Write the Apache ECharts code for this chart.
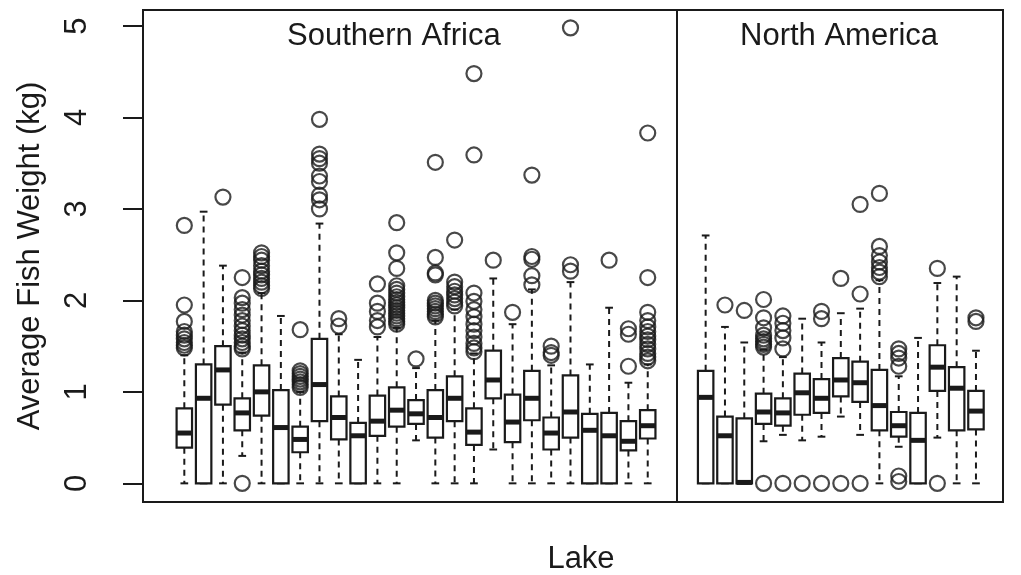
<!DOCTYPE html>
<html>
<head>
<meta charset="utf-8">
<script src="https://cdn.jsdelivr.net/npm/echarts@6/dist/echarts.min.js"></script>
<style>
html, body { margin: 0; padding: 0; background: #fff; }
#main { width: 1021px; height: 575px; }
</style>
</head>
<body>
<div id="main"></div>
<script>
// each lake: lower whisker, lower hinge, median, upper hinge, upper whisker (kg)
const saLow  = [0, 0, 0, 0.30, 0, 0, 0, 0, 0, 0, 0, 0, 0.47, 0, 0, 0, 0.37, 0, 0, 0, 0, 0, 0, 0, 0];
const saQ1   = [0.39, 0, 0.86, 0.58, 0.74, 0, 0.34, 0.68, 0.48, 0, 0.52, 0.62, 0.65, 0.50, 0.68, 0.42, 0.93, 0.45, 0.69, 0.37, 0.50, 0, 0, 0.36, 0.49];
const saMed  = [0.55, 0.93, 1.24, 0.77, 1.00, 0.61, 0.48, 1.08, 0.72, 0.52, 0.68, 0.80, 0.76, 0.72, 0.93, 0.56, 1.13, 0.67, 0.93, 0.55, 0.78, 0.58, 0.52, 0.46, 0.63];
const saQ3   = [0.82, 1.30, 1.50, 0.93, 1.29, 1.02, 0.62, 1.58, 0.95, 0.66, 0.96, 1.05, 0.91, 1.02, 1.17, 0.82, 1.45, 0.97, 1.23, 0.72, 1.18, 0.76, 0.77, 0.68, 0.80];
const saHigh = [1.40, 2.97, 2.38, 1.43, 2.08, 1.83, 1.00, 2.84, 1.63, 1.35, 1.60, 1.70, 1.26, 1.78, 1.90, 1.42, 2.24, 1.74, 2.12, 1.29, 2.20, 1.30, 1.92, 1.10, 1.30];
const saOutliers = [
  [1.48, 1.51, 1.54, 1.58, 1.62, 1.66, 1.77, 1.95, 2.82],
  [],
  [3.13],
  [0, 1.47, 1.5, 1.54, 1.58, 1.62, 1.67, 1.72, 1.78, 1.84, 1.9, 1.97, 2.03, 2.25],
  [2.13, 2.16, 2.2, 2.24, 2.28, 2.32, 2.38, 2.44, 2.48, 2.52],
  [],
  [1.05, 1.08, 1.11, 1.14, 1.17, 1.2, 1.23, 1.68],
  [3.0, 3.1, 3.15, 3.3, 3.36, 3.5, 3.55, 3.6, 3.98],
  [1.72, 1.8],
  [],
  [1.71, 1.78, 1.88, 1.97, 2.18],
  [1.74, 1.77, 1.8, 1.83, 1.86, 1.89, 1.92, 1.95, 1.98, 2.01, 2.04, 2.08, 2.12, 2.16, 2.35, 2.52, 2.85],
  [1.36],
  [1.82, 1.85, 1.88, 1.91, 1.94, 1.97, 2.0, 2.28, 2.3, 2.47, 3.51],
  [1.94, 1.98, 2.02, 2.06, 2.1, 2.15, 2.2, 2.66],
  [1.44, 1.48, 1.53, 1.6, 1.67, 1.74, 1.82, 1.9, 1.99, 2.08, 3.59, 4.48],
  [2.44],
  [1.87],
  [2.17, 2.27, 2.45, 2.48, 3.37],
  [1.4, 1.43, 1.5],
  [2.32, 2.39, 4.98],
  [],
  [2.44],
  [1.28, 1.63, 1.69],
  [1.34, 1.38, 1.42, 1.47, 1.52, 1.57, 1.61, 1.66, 1.71, 1.78, 1.87, 2.25, 3.83]
];

const naLow  = [0, 0, 0, 0.46, 0.53, 0.47, 0.51, 0.73, 0.53, 0, 0.40, 0, 0.50, 0, 0];
const naQ1   = [0, 0, 0, 0.65, 0.63, 0.75, 0.77, 0.95, 0.89, 0.58, 0.51, 0, 1.01, 0.58, 0.59];
const naMed  = [0.94, 0.52, 0.01, 0.78, 0.77, 0.99, 0.93, 1.13, 1.10, 0.85, 0.63, 0.47, 1.27, 1.04, 0.79];
const naQ3   = [1.23, 0.73, 0.71, 0.98, 0.93, 1.20, 1.14, 1.37, 1.33, 1.24, 0.78, 0.77, 1.51, 1.27, 1.01];
const naHigh = [2.71, 1.71, 1.54, 1.46, 1.38, 1.80, 1.54, 1.86, 1.91, 2.22, 1.17, 1.59, 2.19, 2.26, 1.45];
const naOutliers = [
  [],
  [1.95],
  [1.89],
  [0, 1.49, 1.52, 1.55, 1.58, 1.62, 1.7, 1.81, 2.01],
  [0, 1.47, 1.59, 1.67, 1.75, 1.83],
  [0],
  [0, 1.8, 1.88],
  [0, 2.24],
  [0, 2.07, 3.05],
  [2.26, 2.31, 2.36, 2.42, 2.49, 2.59, 3.17],
  [0.02, 0.08, 1.28, 1.37, 1.42, 1.47],
  [],
  [0, 2.35],
  [],
  [1.77, 1.81]
];

const yTicks = [0, 1, 2, 3, 4, 5];

const ink = '#1a1a1a';
const font = 'Liberation Sans, Arial, Helvetica, sans-serif';

// lakes sit at 1,2,3,... ; North America starts after a gap of two slots
const naStart = saMed.length + 3;
const divider = saMed.length + 1.5;

let boxData = [];
let outlierData = [];
function addRegion(low, q1, med, q3, high, outs, start) {
    for (let i = 0; i < med.length; i++) {
        let x = start + i;
        boxData.push([x, low[i], q1[i], med[i], q3[i], high[i]]);
        for (let j = 0; j < outs[i].length; j++) {
            outlierData.push([x, outs[i][j]]);
        }
    }
}
addRegion(saLow, saQ1, saMed, saQ3, saHigh, saOutliers, 1);
addRegion(naLow, naQ1, naMed, naQ3, naHigh, naOutliers, naStart);

function renderBox(params, api) {
    let x = api.value(0);
    let low = api.coord([x, api.value(1)]);
    let q1 = api.coord([x, api.value(2)]);
    let med = api.coord([x, api.value(3)]);
    let q3 = api.coord([x, api.value(4)]);
    let high = api.coord([x, api.value(5)]);
    let w = api.size([0.8, 0])[0];
    let cx = med[0];
    let half = w / 2;
    let cap = w / 4;
    let solid = { stroke: ink, lineWidth: 2, fill: null };
    let dashed = { stroke: ink, lineWidth: 2, lineDash: [6, 5], fill: null };
    return {
        type: 'group',
        children: [
            { type: 'line', shape: { x1: cx, y1: q1[1], x2: cx, y2: low[1] }, style: dashed },
            { type: 'line', shape: { x1: cx, y1: q3[1], x2: cx, y2: high[1] }, style: dashed },
            { type: 'line', shape: { x1: cx - cap, y1: low[1], x2: cx + cap, y2: low[1] }, style: solid },
            { type: 'line', shape: { x1: cx - cap, y1: high[1], x2: cx + cap, y2: high[1] }, style: solid },
            { type: 'rect', shape: { x: cx - half, y: q3[1], width: w, height: q1[1] - q3[1] },
              style: { fill: '#fff', stroke: ink, lineWidth: 2.2 } },
            { type: 'line', shape: { x1: cx - half, y1: med[1], x2: cx + half, y2: med[1] },
              style: { stroke: ink, lineWidth: 5 } }
        ]
    };
}

var myChart = echarts.init(document.getElementById('main'));
let option = {
    animation: false,
    backgroundColor: '#fff',
    textStyle: { fontFamily: font, color: ink },
    title: [
        {
            text: 'Southern Africa',
            left: 287,
            top: 21,
            padding: 0,
            textStyle: { fontSize: 31, fontWeight: 'normal', color: ink, fontFamily: font }
        },
        {
            text: 'North America',
            left: 740,
            top: 21,
            padding: 0,
            textStyle: { fontSize: 31, fontWeight: 'normal', color: ink, fontFamily: font }
        }
    ],
    grid: {
        left: 143,
        right: 18,
        top: 10,
        bottom: 73,
        containLabel: false,
        outerBoundsMode: 'none',
        show: true,
        borderColor: ink,
        borderWidth: 2,
        backgroundColor: 'transparent'
    },
    xAxis: {
        type: 'value',
        min: -1.14,
        max: 43.4,
        name: 'Lake',
        nameLocation: 'middle',
        nameGap: 42,
        nameTextStyle: { fontSize: 31, color: ink, fontFamily: font, padding: [0, 0, 0, 16] },
        axisLine: { show: false, onZero: false },
        axisTick: { show: false },
        axisLabel: { show: false },
        splitLine: { show: false }
    },
    yAxis: {
        type: 'value',
        min: -0.204,
        max: 5.175,
        name: 'Average Fish Weight (kg)',
        nameLocation: 'middle',
        nameRotate: 90,
        nameGap: 97,
        nameTextStyle: { fontSize: 31, color: ink, fontFamily: font },
        axisLine: { show: false, onZero: false },
        splitLine: { show: false },
        axisTick: {
            show: true,
            inside: false,
            length: 20,
            customValues: yTicks,
            lineStyle: { color: ink, width: 2 }
        },
        axisLabel: {
            customValues: yTicks,
            rotate: 90,
            margin: 50,
            fontSize: 31,
            color: ink,
            fontFamily: font
        }
    },
    series: [
        {
            name: 'boxes',
            type: 'custom',
            renderItem: renderBox,
            encode: { x: 0, y: [1, 2, 3, 4, 5] },
            data: boxData,
            z: 2
        },
        {
            name: 'outliers',
            type: 'scatter',
            symbol: 'circle',
            symbolSize: 15,
            itemStyle: { color: 'rgba(0,0,0,0)', borderColor: ink, borderWidth: 2.2 },
            data: outlierData,
            z: 3,
            markLine: {
                silent: true,
                symbol: ['none', 'none'],
                label: { show: false },
                lineStyle: { color: ink, width: 2, type: 'solid' },
                data: [{ xAxis: divider }]
            }
        }
    ]
};
myChart.setOption(option);
</script>
</body>
</html>
